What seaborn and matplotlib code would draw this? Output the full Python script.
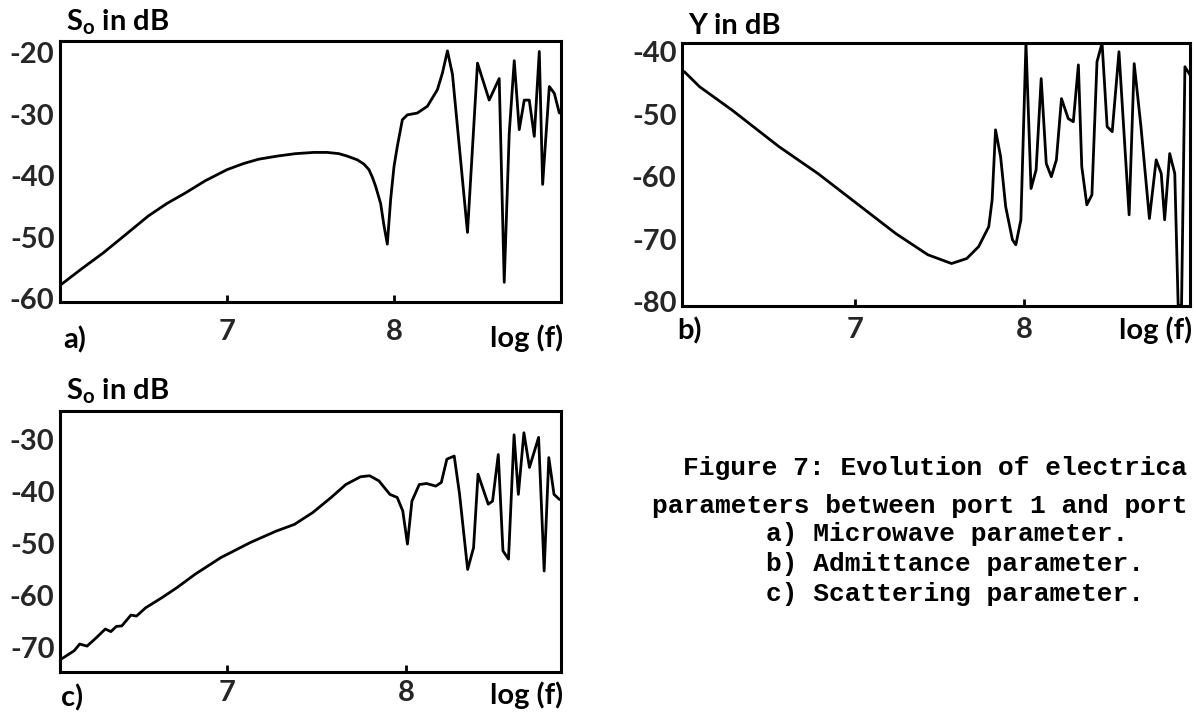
import seaborn as sns
import matplotlib
matplotlib.use('Agg')
import matplotlib.pyplot as plt

# a) microwave parameter, S_o in dB
a_logf = [6.00, 6.13, 6.26, 6.40, 6.53, 6.64, 6.75, 6.87, 7.00, 7.10, 7.19, 7.30, 7.41, 7.52,
          7.60, 7.67, 7.72, 7.78, 7.82, 7.85, 7.87, 7.89, 7.92, 7.94, 7.96, 7.98, 8.00, 8.02,
          8.05, 8.08, 8.14, 8.20, 8.26, 8.29, 8.32, 8.35, 8.44, 8.50, 8.57, 8.63, 8.66, 8.69,
          8.72, 8.75, 8.78, 8.81, 8.84, 8.87, 8.89, 8.93, 8.96, 8.99]
a_db = [-57.8, -55.1, -52.5, -49.4, -46.5, -44.5, -42.8, -40.8, -39.0, -38.0, -37.3, -36.8, -36.4, -36.2,
        -36.2, -36.4, -36.8, -37.4, -38.1, -39.0, -40.2, -41.7, -44.5, -48.1, -51.1, -43.8, -38.5, -35.2,
        -30.9, -30.1, -29.8, -28.7, -26.0, -23.3, -19.7, -23.5, -49.2, -21.7, -27.7, -24.2, -57.3, -33.1,
        -21.3, -32.5, -27.7, -27.7, -33.6, -19.8, -41.4, -25.5, -26.6, -29.8]

# b) admittance parameter, Y in dB
b_logf = [5.99, 6.08, 6.27, 6.55, 6.78, 7.01, 7.24, 7.43, 7.57, 7.66, 7.73, 7.79, 7.81,
          7.83, 7.86, 7.89, 7.93, 7.95, 7.98, 8.01, 8.04, 8.07, 8.10, 8.13, 8.16, 8.19,
          8.22, 8.26, 8.29, 8.32, 8.34, 8.37, 8.40, 8.43, 8.46, 8.49, 8.52, 8.56, 8.59,
          8.62, 8.65, 8.69, 8.74, 8.78, 8.81, 8.83, 8.86, 8.89, 8.91, 8.93, 8.95, 8.98]
b_db = [-43.2, -45.6, -49.3, -55.2, -59.5, -64.3, -69.1, -72.5, -73.9, -73.1, -71.2, -68.0, -63.7,
        -52.5, -56.8, -64.8, -70.1, -70.9, -66.9, -38.6, -61.9, -58.9, -44.3, -57.9, -60.0, -57.3,
        -47.5, -50.7, -51.2, -42.1, -58.4, -64.5, -62.9, -41.6, -38.6, -52.0, -52.8, -40.0, -53.1,
        -66.1, -41.9, -52.0, -66.7, -57.3, -59.5, -66.9, -56.3, -59.5, -80.6, -80.6, -42.4, -43.7]

# c) scattering parameter, S_o in dB
c_logf = [6.074, 6.146, 6.177, 6.218, 6.269, 6.320, 6.351, 6.381, 6.412, 6.463, 6.494, 6.545,
          6.638, 6.720, 6.822, 6.965, 7.129, 7.273, 7.375, 7.478, 7.580, 7.662, 7.744, 7.795,
          7.847, 7.908, 7.949, 7.980, 8.006, 8.031, 8.072, 8.113, 8.164, 8.195, 8.226, 8.267,
          8.297, 8.342, 8.375, 8.400, 8.457, 8.481, 8.513, 8.539, 8.570, 8.601, 8.625, 8.656,
          8.687, 8.738, 8.769, 8.795, 8.824, 8.855]
c_db = [-72.3, -70.7, -69.4, -69.8, -68.2, -66.5, -67.0, -66.0, -65.9, -63.8, -64.0, -62.4,
        -60.4, -58.5, -55.9, -52.7, -49.8, -47.6, -46.3, -44.0, -41.1, -38.6, -37.1, -36.9,
        -37.9, -40.5, -41.1, -43.7, -50.1, -41.8, -38.6, -38.4, -38.9, -38.2, -33.7, -33.1,
        -40.5, -55.0, -50.8, -36.6, -42.4, -41.8, -32.8, -51.4, -53.0, -29.0, -40.5, -28.6,
        -35.3, -29.5, -55.3, -33.4, -40.5, -41.5]

caption = ['Figure 7: Evolution of electrica',
           'parameters between port 1 and port',
           'a) Microwave parameter.',
           'b) Admittance parameter.',
           'c) Scattering parameter.']

sns.set_theme(style='white')
plt.rcParams['font.family'] = ['Lato', 'DejaVu Sans']
plt.rcParams['font.weight'] = 'bold'
plt.rcParams['mathtext.fontset'] = 'custom'
plt.rcParams['mathtext.rm'] = 'Lato:bold'
plt.rcParams['mathtext.it'] = 'Lato:bold'

W, H = 1196, 714
fig = plt.figure(figsize=(W / 100, H / 100), dpi=100)


def box(l, t, r, b):
    return [l / W, 1 - b / H, (r - l) / W, (b - t) / H]


def put(x, y, s, **kw):
    fig.text(x / W, 1 - y / H, s, **kw)


panels = [
    (a_logf, a_db, box(60, 41, 561, 302), (6.0, 9.0), (-60.5, -18.1), [-60, -50, -40, -30, -20], 12),
    (b_logf, b_db, box(682, 43, 1190, 306), (5.976, 8.98), (-80.7, -38.6), [-80, -70, -60, -50, -40], 8),
    (c_logf, c_db, box(60, 411, 561, 672), (6.067, 8.863), (-74.8, -24.4), [-70, -60, -50, -40, -30], 6),
]

for logf, db, rect, xl, yl, yt, pad in panels:
    ax = fig.add_axes(rect)
    sns.lineplot(x=logf, y=db, ax=ax, color='black', lw=2.0)
    ax.set_xlim(*xl)
    ax.set_ylim(*yl)
    ax.set_xticks([7, 8])
    ax.set_xticklabels(['7', '8'])
    ax.set_yticks(yt)
    ax.set_yticklabels([str(v) for v in yt])
    ax.tick_params(axis='x', direction='in', length=5, width=2, color='black',
                   labelsize=21, pad=pad, bottom=True)
    ax.tick_params(axis='y', length=0, labelsize=21, pad=4)
    for sp in ax.spines.values():
        sp.set_color('black')
        sp.set_linewidth(2.2)
    ax.set_xlabel('')
    ax.set_ylabel('')
    ax.grid(False)

lab = dict(fontsize=21, fontweight='bold', color='black', va='center')
put(66, 22, 'S$_\\mathrm{o}$ in dB', ha='left', **lab)
put(63, 340, 'a)', ha='left', **lab)
put(563, 338, 'log (f)', ha='right', **lab)

put(688, 26, 'Y in dB', ha='left', **lab)
put(677, 331, 'b)', ha='left', **lab)
put(1192, 330, 'log (f)', ha='right', **lab)

put(66, 391, 'S$_\\mathrm{o}$ in dB', ha='left', **lab)
put(61, 698, 'c)', ha='left', **lab)
put(563, 695, 'log (f)', ha='right', **lab)

cap = dict(fontsize=18.9, fontweight='bold', family='Liberation Mono', color='black',
           ha='left', va='center')
for (x, y), line in zip([(683, 468), (652, 506), (766, 534), (766, 564), (766, 594)], caption):
    put(x, y, line, **cap)

fig.savefig('out.png', dpi=100, facecolor='white')
